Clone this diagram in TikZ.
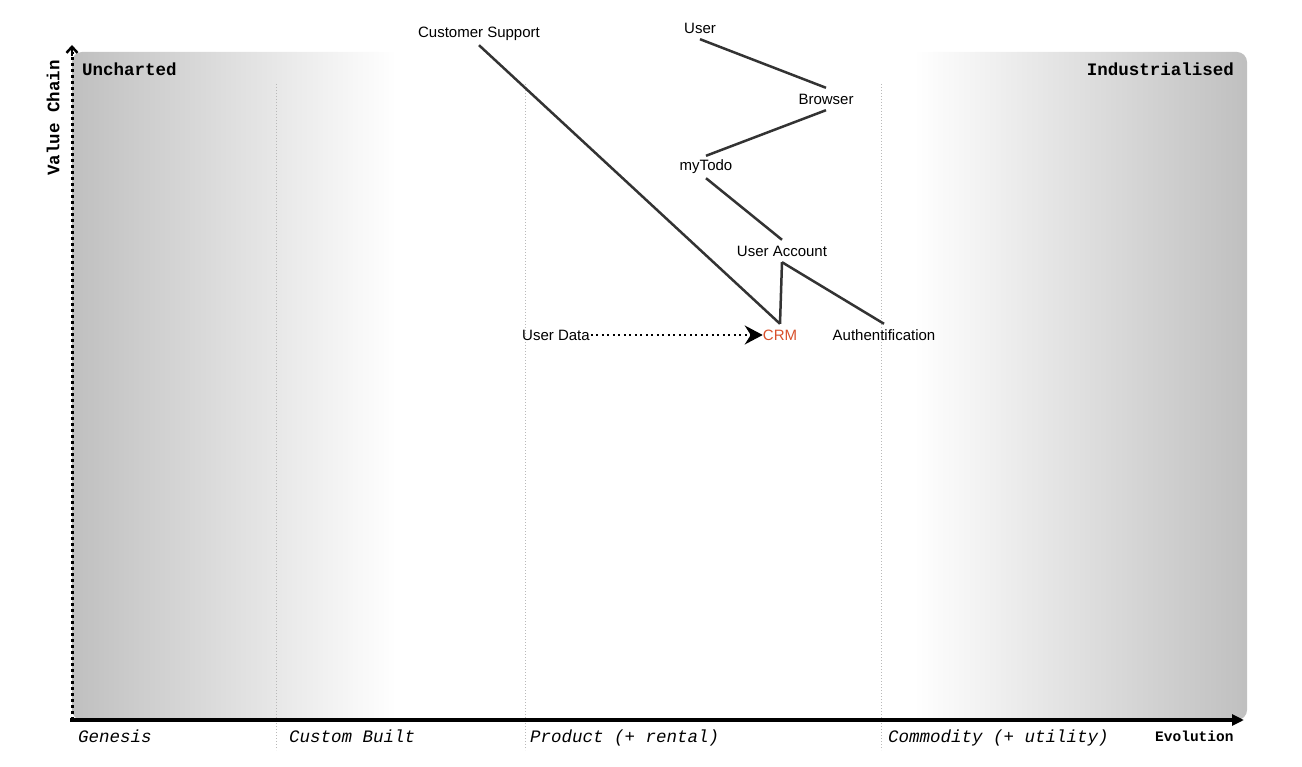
\documentclass[tikz,border=0pt]{standalone}
\usepackage{fontspec}
\setmainfont{Liberation Sans}
\newfontfamily\monofont{Liberation Mono}
\usetikzlibrary{arrows.meta}
\definecolor{linecol}{HTML}{333333}
\definecolor{crmred}{HTML}{D8502B}
\definecolor{bandgray}{HTML}{BDBDBD}
\tikzset{
  comp/.style={inner sep=0pt, minimum height=22pt, font=\fontsize{15}{17}\selectfont, text=black},
  link/.style={draw=linecol, line width=2.5pt},
  sep/.style={draw=gray!55, line width=1pt, dash pattern=on 1pt off 2pt},
  stage/.style={anchor=base west, font=\monofont\itshape\fontsize{17.5}{19}\selectfont},
  corner/.style={font=\monofont\bfseries\fontsize{17.5}{19}\selectfont},
}
\begin{document}
\begin{tikzpicture}[x=1pt,y=-1pt]
\useasboundingbox (0,0) rectangle (1302,767);
% background
\begin{scope}
\clip[rounded corners=10pt] (72,52) rectangle (1247,720);
\shade[left color=bandgray, right color=white] (60,52) rectangle (396,720);
\shade[left color=white, right color=bandgray] (914,52) rectangle (1260,720);
\end{scope}
% separators
\draw[sep] (276,84) -- (276,750);
\draw[sep] (525,84) -- (525,750);
\draw[sep] (881,84) -- (881,750);
% axes
\draw[line width=3pt, dash pattern=on 3pt off 3pt] (72,720) -- (72,52);
\draw[line width=2.5pt, -{Straight Barb[length=6pt,width=11pt]}] (72,56) -- (72,45);
\draw[line width=3.5pt, -{Triangle[length=12pt,width=11pt]}] (70,720) -- (1244,720);
% axis labels
\node[corner, anchor=base west, inner sep=0pt] (unch) at (82,76) {Uncharted};
\node[corner, anchor=base east, inner sep=0pt] (ind) at (1234,76) {Industrialised};
\node[corner, rotate=90, inner sep=0pt] (vc) at (53,118) {Value Chain};
\node[stage, inner sep=0pt] (gen) at (78,742) {Genesis};
\node[stage, inner sep=0pt] (cb) at (289,742) {Custom Built};
\node[stage, inner sep=0pt] (prod) at (530,742) {Product (+ rental)};
\node[stage, inner sep=0pt] (comm) at (888,742) {Commodity (+ utility)};
\node[anchor=base west, inner sep=0pt, font=\monofont\bfseries\fontsize{14.5}{16}\selectfont] (evo) at (1155,741) {Evolution};
% components
\node[comp] (cs) at (479,34) {Customer Support};
\node[comp] (user) at (700,28) {User};
\node[comp] (browser) at (826,99) {Browser};
\node[comp] (mytodo) at (706,167) {myTodo};
\node[comp] (ua) at (782,251) {User Account};
\node[comp, text=crmred] (crm) at (780,335) {CRM};
\node[comp] (auth) at (884,335) {Authentification};
\node[comp, inner xsep=1pt] (ud) at (556,335) {User Data};
% links
\draw[link] (cs.south) -- (crm.north);
\draw[link] (user.south) -- (browser.north);
\draw[link] (browser.south) -- (mytodo.north);
\draw[link] (mytodo.south) -- (ua.north);
\draw[link] (ua.south) -- (crm.north);
\draw[link] (ua.south) -- (auth.north);
\draw[line width=2pt, dash pattern=on 2pt off 3.5pt, -{Stealth[length=18pt,width=19pt,inset=6pt]}] (ud.east) -- (crm.west);
\end{tikzpicture}
\end{document}
